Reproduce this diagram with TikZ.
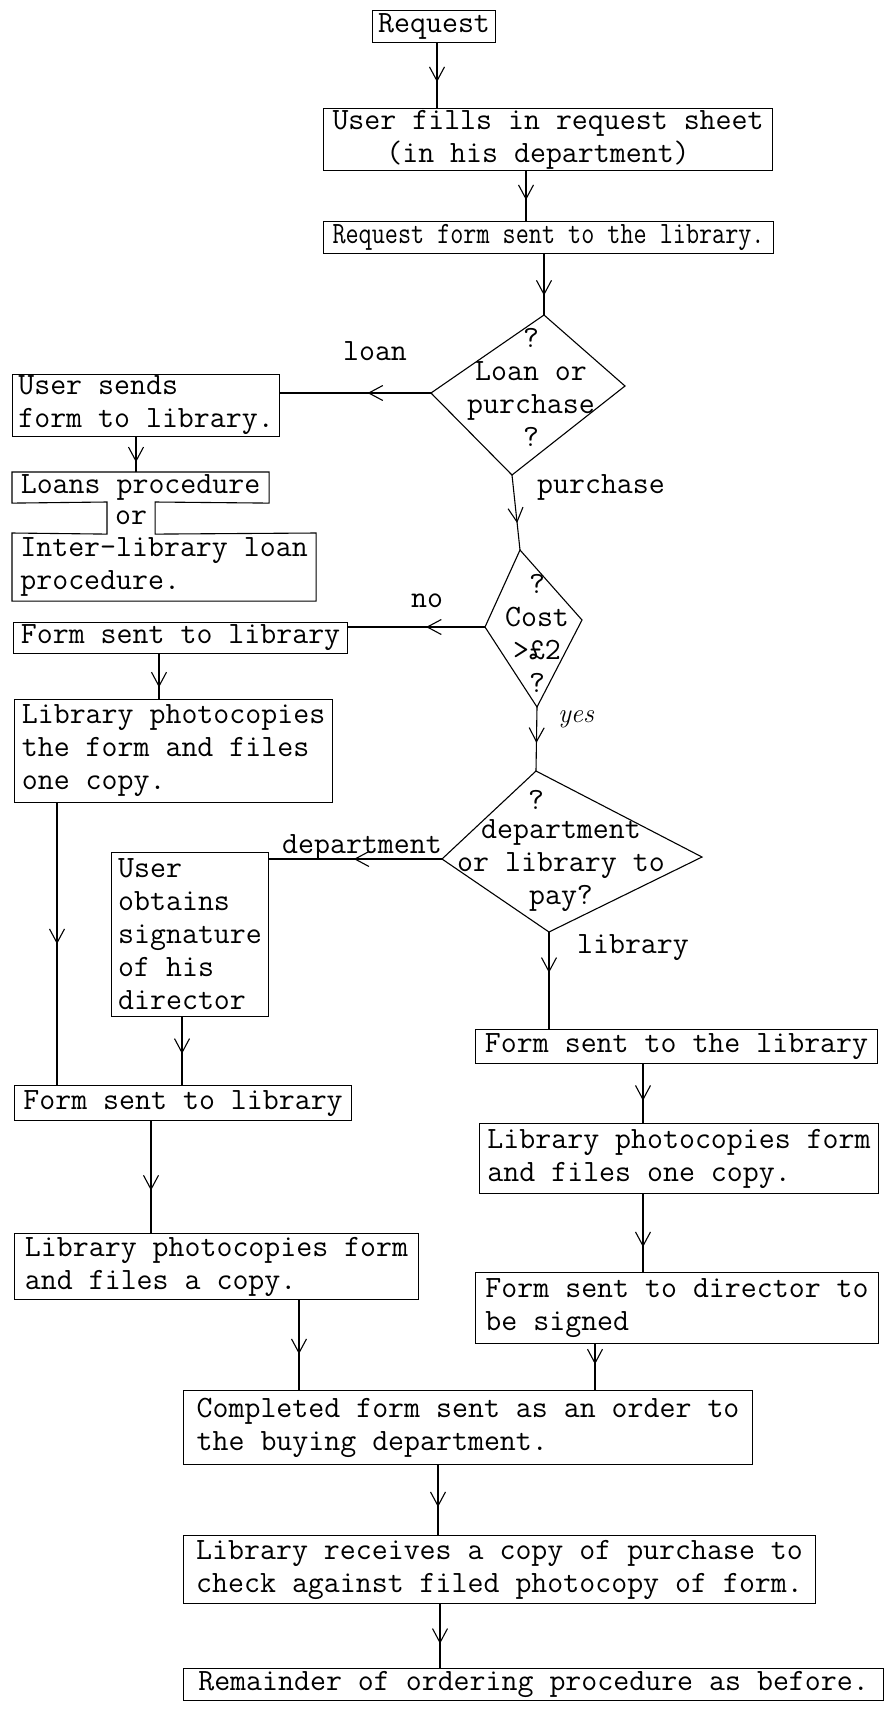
\documentclass[tikz,border=0pt]{standalone}
\usepackage{graphicx}
\usetikzlibrary{arrows.meta,decorations.markings}
\begin{document}
\begin{tikzpicture}[x=1pt,y=-1pt,line width=1.1pt,
  every node/.style={font=\ttfamily\fontsize{31}{33}\selectfont},
  box/.style 2 args={draw, rectangle, anchor=north west, minimum width=#1, minimum height=#2,
                     inner xsep=0pt, inner ysep=0pt, align=left},
  plain/.style 2 args={rectangle, anchor=north west, minimum width=#1, minimum height=#2,
                     inner xsep=0pt, inner ysep=0pt, align=left},
  dtext/.style={inner sep=0pt, align=center},
  lbl/.style={anchor=base, inner sep=0pt},
  flow/.style={draw, postaction={decorate},
    decoration={markings, mark=at position #1 with {\arrow{Straight Barb[length=14pt,width=15pt]}}}},
  flow/.default=0.5]

% page
\fill[white] (0,0) rectangle (892,1709);
\useasboundingbox (0,0) rectangle (892,1709);

% main column, top
\node[box={123}{32}] (req) at (372,10) {Request};
\node[box={449}{62}, align=center] (fills) at (323,108) {User fills in request sheet\\(in his department)\hspace*{20pt}};
\node[box={450}{32}] (reqform) at (323,221) {\scalebox{0.82}[1]{Request form sent to the library.}};

% decision: loan or purchase
\coordinate (d1t) at (544,315);
\coordinate (d1r) at (625,386);
\coordinate (d1b) at (512,475);
\coordinate (d1l) at (431,393);
\draw (d1t) -- (d1r) -- (d1b) -- (d1l) -- cycle;
\node[dtext] (d1txt) at (531,387) {?\\Loan or\\purchase\\?};

% decision: cost
\coordinate (d2t) at (520,550);
\coordinate (d2r) at (582,620);
\coordinate (d2b) at (537,707);
\coordinate (d2l) at (485,627);
\draw (d2t) -- (d2r) -- (d2b) -- (d2l) -- cycle;
\node[dtext] (d2txt) at (537,633) {?\\Cost\\>£2\\?};

% decision: who pays
\coordinate (d3t) at (536,771);
\coordinate (d3r) at (702,857);
\coordinate (d3b) at (549,932);
\coordinate (d3l) at (442,859);
\draw (d3t) -- (d3r) -- (d3b) -- (d3l) -- cycle;
\node[dtext] (d3q) at (536,800) {?};
\node[dtext] (d3txt) at (561,866) {department\\or library to\\pay?};

% loan branch
\node[box={267}{62}] (usersends) at (12,374) {User sends\\form to library.};
\node[plain={256}{30}] (loans) at (12,472) {Loans procedure};
\node[plain={47}{31}] (orn) at (107,502) {or};
\node[plain={303}{67}] (ill) at (12,533) {Inter-library loan\\procedure.};
\draw (loans.south west) -- (loans.north west) -- (loans.north east) -- (loans.south east)
  -- (orn.north east) -- (orn.south east) -- (ill.north east) -- (ill.south east)
  -- (ill.south west) -- (ill.north west) -- (orn.south west) -- (orn.north west) -- cycle;

% cheap purchase branch
\node[box={334}{31}] (form1) at (13,622) {Form sent to library};
\node[box={318}{103}] (photo1) at (14,699) {Library photocopies\\the form and files\\one copy.};

% department pays
\node[box={157}{164}] (userobt) at (111,852) {User\\obtains\\signature\\of his\\director};
\node[box={337}{35}] (form2) at (14,1085) {Form sent to library};
\node[box={404}{66}] (photo2) at (14,1233) {Library photocopies form\\and files a copy.};

% library pays
\node[box={402}{34}] (formlib) at (475,1029) {Form sent to the library};
\node[box={399}{70}] (photo3) at (479,1123) {Library photocopies form\\and files one copy.};
\node[box={403}{71}] (director) at (475,1272) {Form sent to director to\\be signed};

% common end
\node[box={569}{74}] (completed) at (183,1390) {Completed form sent as an order to\\the buying department.};
\node[box={632}{68}] (librec) at (183,1535) {Library receives a copy of purchase to\\check against filed photocopy of form.};
\node[box={700}{32}] (remainder) at (183,1668) {Remainder of ordering procedure as before.};

% connectors
\draw[flow=.6]  (req.south -| 437,0) -- (fills.north -| 437,0);
\draw[flow=.58] (fills.south -| 526,0) -- (reqform.north -| 526,0);
\draw[flow=.68] (reqform.south -| d1t) -- (d1t);
\draw[flow=.42] (d1l) -- (usersends.east |- d1l);
\draw[flow=.72] (usersends.south -| 136,0) -- (loans.north -| 136,0);
\draw[flow=.64] (d1b) -- (d2t);
\draw[flow=.43] (d2l) -- (form1.east |- d2l);
\draw[flow=.74] (form1.south -| 159,0) -- (photo1.north -| 159,0);
\draw[flow=.5]  (photo1.south -| 57,0) -- (form2.north -| 57,0);
\draw[flow=.56] (d2b) -- (d3t);
\draw[flow=.51] (d3l) -- (userobt.east |- d3l);
\draw[flow=.54] (userobt.south -| 182,0) -- (form2.north -| 182,0);
\draw[flow=.62] (form2.south -| 151,0) -- (photo2.north -| 151,0);
\draw[flow=.6]  (photo2.south -| 299,0) -- (completed.north -| 299,0);
\draw[flow=.42] (d3b) -- (formlib.north -| d3b);
\draw[flow=.62] (formlib.south -| 643,0) -- (photo3.north -| 643,0);
\draw[flow=.68] (photo3.south -| 643,0) -- (director.north -| 643,0);
\draw[flow=.44] (director.south -| 595,0) -- (completed.north -| 595,0);
\draw[flow=.6]  (completed.south -| 438,0) -- (librec.north -| 438,0);
\draw[flow=.62] (librec.south -| 440,0) -- (remainder.north -| 440,0);

% branch labels
\node[lbl] (lloan) at (375,360) {loan};
\node[lbl] (lpurch) at (601,493) {purchase};
\node[lbl] (lno) at (427,607) {no};
\node[lbl, font=\normalfont\itshape\fontsize{27}{29}\selectfont] (lyes) at (576,722) {yes};
\node[lbl] (ldept) at (362,853) {department};
\node[lbl] (llib) at (633,953) {library};
\end{tikzpicture}
\end{document}
